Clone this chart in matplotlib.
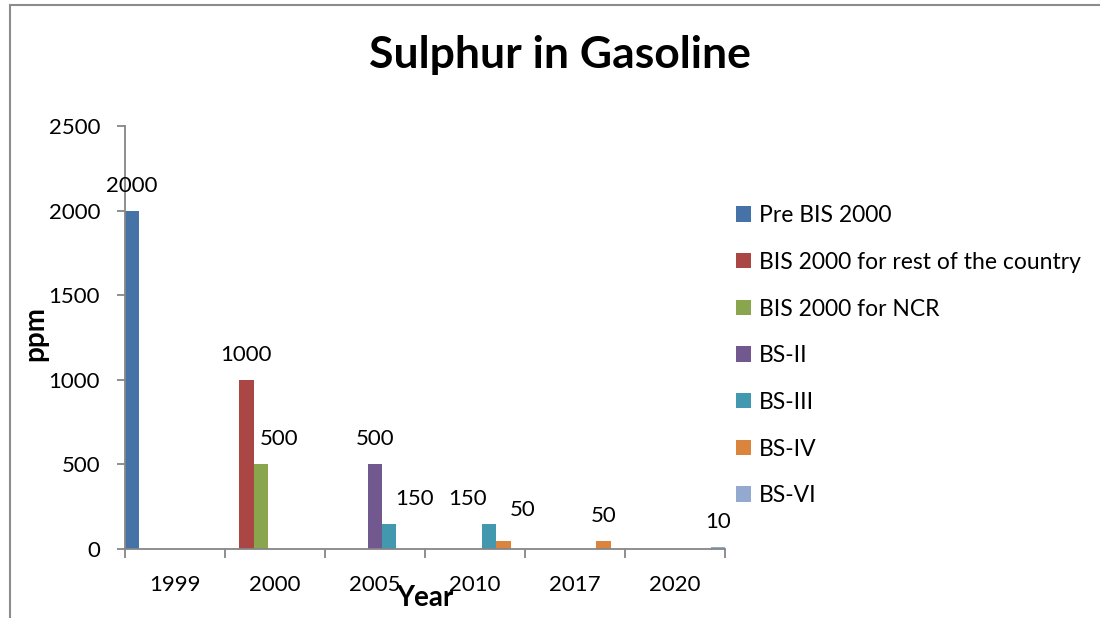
import numpy as np
import matplotlib
matplotlib.use('Agg')
import matplotlib.pyplot as plt
from matplotlib.patches import Rectangle, Patch

plt.rcParams['font.family'] = ['Lato', 'DejaVu Sans']

nan = np.nan
categories = ['1999', '2000', '2005', '2010', '2017', '2020']
series_names = ['Pre BIS 2000', 'BIS 2000 for rest of the country', 'BIS 2000 for NCR',
                'BS-II', 'BS-III', 'BS-IV', 'BS-VI']
pre_bis = [2000, nan, nan, nan, nan, nan]
bis_rest = [nan, 1000, nan, nan, nan, nan]
bis_ncr = [nan, 500, nan, nan, nan, nan]
bs2 = [nan, nan, 500, nan, nan, nan]
bs3 = [nan, nan, 150, 150, nan, nan]
bs4 = [nan, nan, nan, 50, 50, nan]
bs6 = [nan, nan, nan, nan, nan, 10]
all_series = [pre_bis, bis_rest, bis_ncr, bs2, bs3, bs4, bs6]
colors = ['#4572A7', '#AA4643', '#89A54E', '#71588F', '#4198AF', '#DB843D', '#93A9CF']

# label nudges (pixels) where excel moved labels to avoid overlaps
nudge = {(2, 1): (18, 0), (4, 2): (25, 0), (4, 3): (-22, 0), (5, 3): (19, -6)}

fig = plt.figure(figsize=(11, 6.18), dpi=100)
ax = fig.add_axes([125/1100, 1-549/618, 600/1100, 423/618])

n = len(all_series)
w = 1.0 / n
x0 = np.arange(len(categories))
px2pt = 72/100
for i, (vals, c) in enumerate(zip(all_series, colors)):
    vals = np.array(vals, dtype=float)
    xs = x0 + (i + 0.5) * w
    ax.bar(xs, vals, width=w, color=c, label=series_names[i], zorder=2)
    for j, v in enumerate(vals):
        if np.isnan(v):
            continue
        dx, dy = nudge.get((i, j), (0, 0))
        ax.annotate(f'{int(v)}', (xs[j], v), xytext=(dx*px2pt, (25 - dy)*px2pt),
                    textcoords='offset points', ha='center', va='center', fontsize=16)

ax.set_xlim(0, len(categories))
ax.set_ylim(0, 2500)
ax.set_yticks(np.arange(0, 2501, 500))
ax.set_xticks(np.arange(0, len(categories)+1))
ax.set_xticklabels([])
ax.set_xticks(x0 + 0.5, minor=True)
ax.set_xticklabels(categories, minor=True)
ax.tick_params(axis='x', which='minor', length=0, pad=19, labelsize=16)
ax.tick_params(axis='x', which='major', length=6.5, color='#868686', width=1.3, direction='out')
ax.tick_params(axis='y', length=6, color='#868686', width=1.3, pad=12, labelsize=16)
for s in ['top', 'right']:
    ax.spines[s].set_visible(False)
for s in ['left', 'bottom']:
    ax.spines[s].set_color('#868686')
    ax.spines[s].set_linewidth(1.3)

ax.set_ylabel('ppm', fontsize=20, fontweight='bold', va='center')
ax.yaxis.set_label_coords(-0.15, 0.51)
ax.set_xlabel('Year', fontsize=20, fontweight='bold', va='center')
ax.xaxis.set_label_coords(0.5, -0.115)

fig.text(560/1100, 1-55/618, 'Sulphur in Gasoline', fontsize=32, fontweight='bold',
         ha='center', va='center')

handles = [Patch(facecolor=c) for c in colors]
fig.legend(handles, series_names, loc='upper left', bbox_to_anchor=(727/1100, 1-196/618),
           frameon=False, fontsize=16.5, handlelength=0.65, handleheight=0.65,
           handletextpad=0.35, labelspacing=1.12, borderaxespad=0)

fig.patches.append(Rectangle((9.5/1100, -0.1), 1.2, 1.1 - 5/618, transform=fig.transFigure,
                             fill=False, edgecolor='#8c8c8c', linewidth=1.5))

fig.savefig('out.png', dpi=100)
